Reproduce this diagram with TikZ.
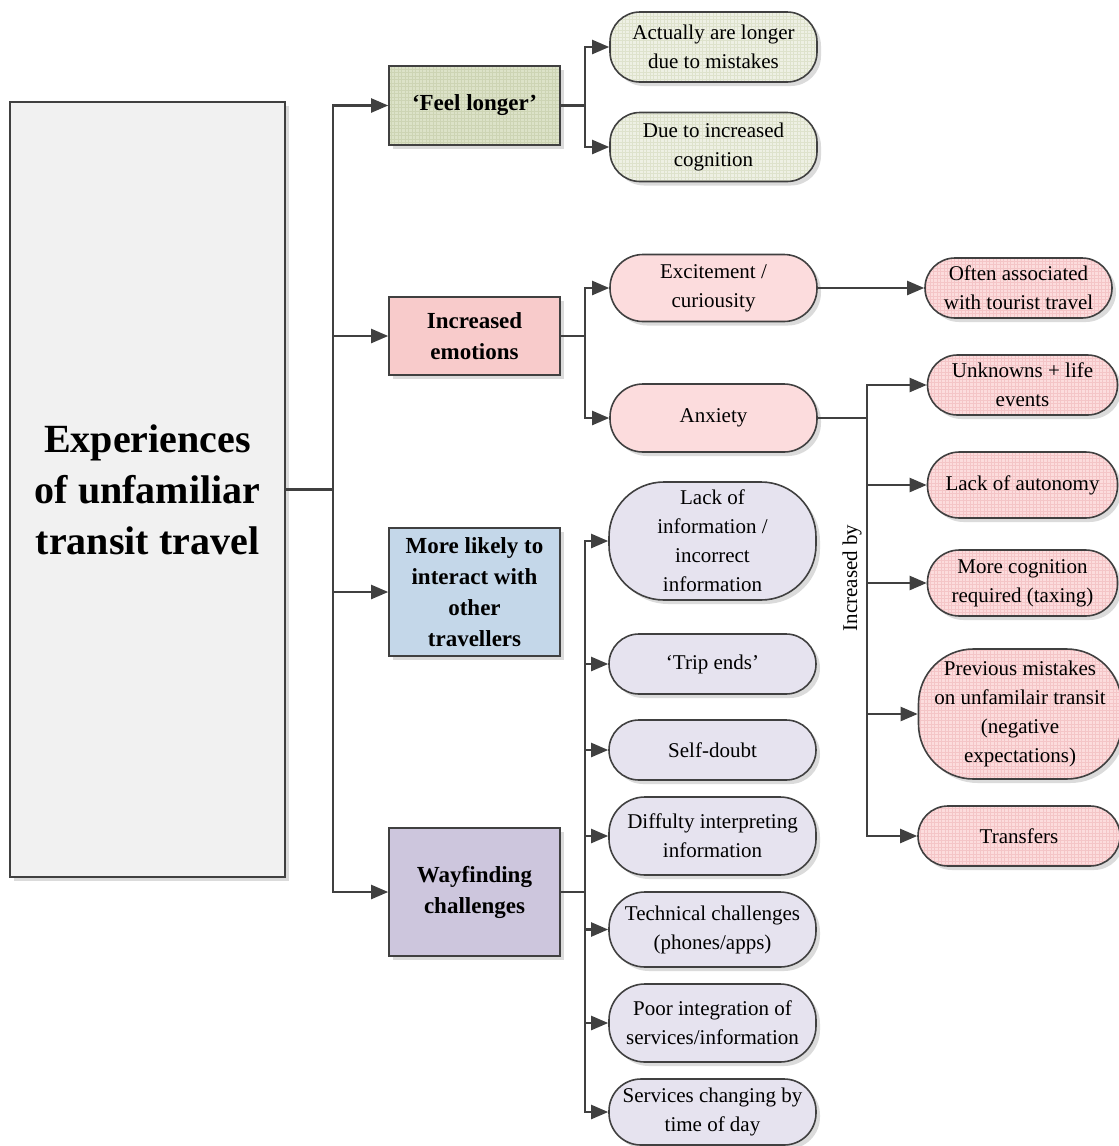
\documentclass[tikz,border=0pt]{standalone}
\usepackage{fontspec}
\setmainfont{Liberation Serif}
\usetikzlibrary{arrows.meta,shadows}

\definecolor{edge}{HTML}{404040}
\definecolor{rootfill}{HTML}{F1F1F1}
\definecolor{greenbox}{HTML}{DCE2C8}
\definecolor{greenboxgrid}{HTML}{CDD4B4}
\definecolor{greenpill}{HTML}{EEF0E4}
\definecolor{greengrid}{HTML}{DEE2CC}
\definecolor{pinkbox}{HTML}{F8CBCB}
\definecolor{pinkpill}{HTML}{FCDCDD}
\definecolor{pinkgrid}{HTML}{F4C5C7}
\definecolor{bluebox}{HTML}{C4D7E9}
\definecolor{lilacbox}{HTML}{CDC6DD}
\definecolor{lilacpill}{HTML}{E6E3EF}

\begin{document}
\begin{tikzpicture}[x=1pt,y=-1pt,
  box/.style={draw=edge, line width=1.6pt, align=center, inner sep=2pt,
    drop shadow={shadow xshift=4pt, shadow yshift=-4pt, fill=black!14, opacity=1}},
  topbox/.style={box, rectangle, fill=rootfill,
    font=\bfseries\fontsize{40}{51}\selectfont},
  lvlbox/.style={box, rectangle, minimum width=171pt,
    font=\bfseries\fontsize{23}{31}\selectfont},
  pill/.style={box, rounded corners=#1, font=\fontsize{21}{29}\selectfont},
  pill/.default=30pt,
  gridded/.style={path picture={\draw[#1, line width=0.4pt]
    (path picture bounding box.south west) grid[step=3.5pt]
    (path picture bounding box.north east);}},
  conn/.style={draw=edge, line width=2.2pt},
  arr/.style={conn, -{Triangle[length=17pt,width=14pt]}}
]
\useasboundingbox (0,0) rectangle (1119,1146);

% root
\node[topbox, minimum width=275pt, minimum height=775pt] (root) at (147.5,489.5)
  {Experiences\\of unfamiliar\\transit travel};

% first level
\node[lvlbox, fill=greenbox, gridded=greenboxgrid, minimum height=79pt] (feel) at (474.5,105.5) {‘Feel longer’};
\node[lvlbox, fill=pinkbox, minimum height=78pt] (emo) at (474.5,336) {Increased\\emotions};
\node[lvlbox, fill=bluebox, minimum height=128pt] (inter) at (474.5,592) {More likely to\\interact with\\other\\travellers};
\node[lvlbox, fill=lilacbox, minimum height=128pt] (way) at (474.5,892) {Wayfinding\\challenges};

% time perception
\node[pill, fill=greenpill, gridded=greengrid, minimum width=207pt, minimum height=70pt] (act) at (713.5,47) {Actually are longer\\due to mistakes};
\node[pill, fill=greenpill, gridded=greengrid, minimum width=207pt, minimum height=69pt] (due) at (713.5,147) {Due to increased\\cognition};

% emotions
\node[pill=33pt, fill=pinkpill, minimum width=207pt, minimum height=67pt] (exc) at (713.5,288) {Excitement /\\curiousity};
\node[pill=33pt, fill=pinkpill, minimum width=207pt, minimum height=68pt] (anx) at (713.5,418) {Anxiety};
\node[pill, fill=pinkpill, gridded=pinkgrid, minimum width=187pt, minimum height=60pt] (often) at (1018.5,288) {Often associated\\with tourist travel};

% anxiety factors
\node[pill, fill=pinkpill, gridded=pinkgrid, minimum width=190pt, minimum height=60pt] (unk) at (1022.5,385) {Unknowns + life\\events};
\node[pill=32pt, fill=pinkpill, gridded=pinkgrid, minimum width=190pt, minimum height=66pt] (auton) at (1022.5,485) {Lack of autonomy};
\node[pill=32pt, fill=pinkpill, gridded=pinkgrid, minimum width=190pt, minimum height=66pt] (cog) at (1022.5,583) {More cognition\\required (taxing)};
\node[pill=55pt, fill=pinkpill, gridded=pinkgrid, minimum width=203pt, minimum height=130pt] (prev) at (1020,714) {Previous mistakes\\on unfamilair transit\\(negative\\expectations)};
\node[pill, fill=pinkpill, gridded=pinkgrid, minimum width=202pt, minimum height=60pt] (trans) at (1019,836) {Transfers};
\node[rotate=90, font=\fontsize{21}{24}\selectfont] (incby) at (852,578) {Increased by};

% wayfinding issues
\node[pill=55pt, fill=lilacpill, minimum width=207pt, minimum height=118pt] (info) at (712.5,541) {Lack of\\information /\\incorrect\\information};
\node[pill, fill=lilacpill, minimum width=207pt, minimum height=60pt] (trip) at (712.5,664) {‘Trip ends’};
\node[pill, fill=lilacpill, minimum width=207pt, minimum height=60pt] (self) at (712.5,750) {Self-doubt};
\node[pill=36pt, fill=lilacpill, minimum width=207pt, minimum height=78pt] (diff) at (712.5,836) {Diffulty interpreting\\information};
\node[pill=36pt, fill=lilacpill, minimum width=207pt, minimum height=75pt] (tech) at (712.5,929.5) {Technical challenges\\(phones/apps)};
\node[pill=36pt, fill=lilacpill, minimum width=207pt, minimum height=78pt] (poor) at (712.5,1023) {Poor integration of\\services/information};
\node[pill=32pt, fill=lilacpill, minimum width=207pt, minimum height=66pt] (serv) at (712.5,1112) {Services changing by\\time of day};

% connectors
\coordinate (j0) at (333,489.5);
\draw[conn] (root.east) -- (j0);
\foreach \t in {feel,emo,inter,way} \draw[arr] (j0) |- (\t.west);

\coordinate (j1) at (585,105.5);
\draw[conn] (feel.east) -- (j1);
\foreach \t in {act,due} \draw[arr] (j1) |- (\t.west);

\coordinate (j2) at (585,336);
\draw[conn] (emo.east) -- (j2);
\foreach \t in {exc,anx} \draw[arr] (j2) |- (\t.west);
\draw[arr] (exc.east) -- (often.west);

\coordinate (j3) at (867,418);
\draw[conn] (anx.east) -- (j3);
\foreach \t in {unk,auton,cog,prev,trans} \draw[arr] (j3) |- (\t.west);

\coordinate (j4) at (585,892);
\draw[conn] (way.east) -- (j4);
\foreach \t in {info,trip,self,diff,tech,poor,serv} \draw[arr] (j4) |- (\t.west);
\end{tikzpicture}
\end{document}
